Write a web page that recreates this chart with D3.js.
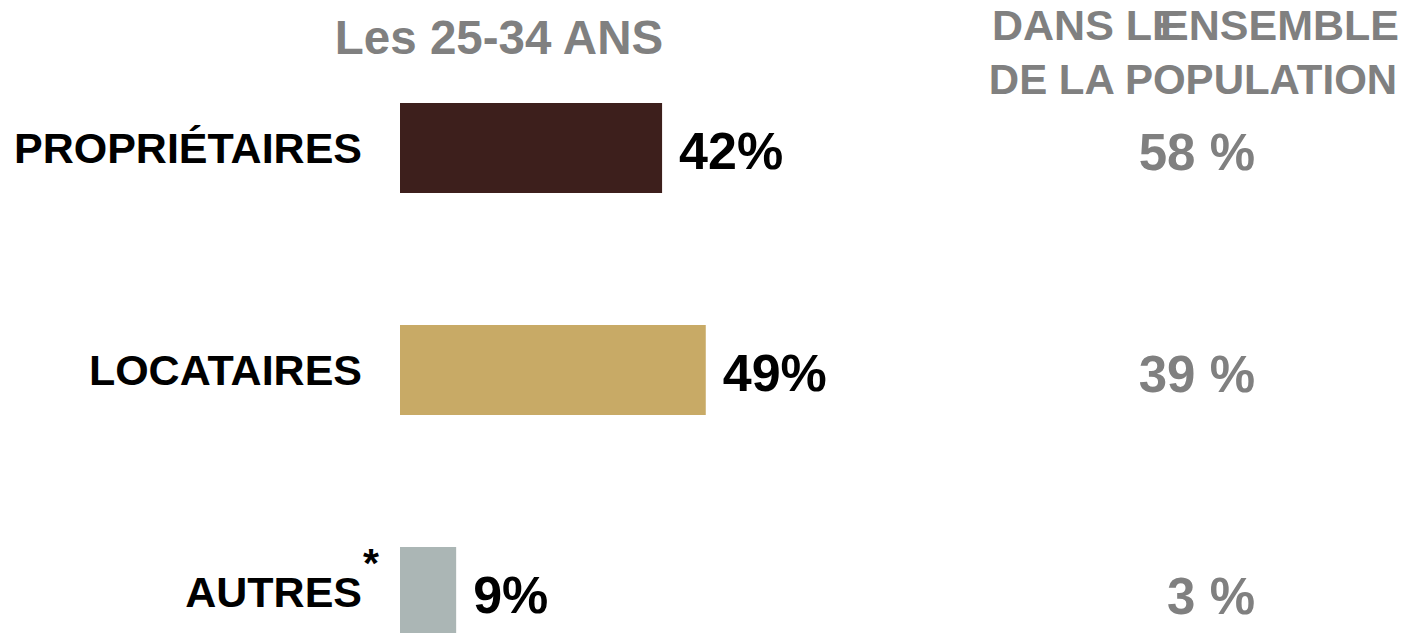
<!DOCTYPE html>
<html>
<head>
<meta charset="utf-8">
<script src="https://cdn.jsdelivr.net/npm/d3@7"></script>
<style>
    body { margin: 0; background: #fff; }
    svg text { font-family: "Liberation Sans", Arial, sans-serif; font-weight: bold; }
</style>
</head>
<body>
<div id="chart"></div>
<script>
// chart data
const categories = ["PROPRIÉTAIRES", "LOCATAIRES", "AUTRES"];
const youngValues = [42, 49, 9];
const allValues = [58, 39, 3];
const barColors = ["#3d1f1c", "#c8aa66", "#abb6b5"];

const width = 1403;
const height = 633;
const grey = "#808080";

const svg = d3.select("#chart")
    .append("svg")
    .attr("width", width)
    .attr("height", height);

const x = d3.scaleLinear().domain([0, 100]).range([400, 1024]);
const y = d3.scaleBand().domain(categories).range([103, 637]).paddingInner(0.5946).paddingOuter(0);

// column headers
svg.append("text")
    .attr("x", 499)
    .attr("y", 54)
    .attr("text-anchor", "middle")
    .style("font-size", "47.5px")
    .style("fill", grey)
    .text("Les 25-34 ANS");

// "DANS L'ENSEMBLE": the E is drawn twice, one over the other, as in the source
const measure = svg.append("text")
    .style("font-size", "43px")
    .style("opacity", 0)
    .text("E");
const ew = measure.node().getComputedTextLength();
measure.remove();

const head1 = svg.append("text")
    .attr("x", 992)
    .attr("y", 40)
    .style("font-size", "43px")
    .style("fill", grey);
head1.append("tspan").text("DANS LE");
head1.append("tspan").attr("dx", -ew + 8).text("ENSEMBLE");

svg.append("text")
    .attr("x", 1193)
    .attr("y", 94)
    .attr("text-anchor", "middle")
    .style("font-size", "42px")
    .style("fill", grey)
    .text("DE LA POPULATION");

// bars
svg.selectAll(".bar")
    .data(categories)
    .enter().append("rect")
    .attr("class", "bar")
    .attr("x", x(0))
    .attr("y", d => y(d))
    .attr("width", (d, i) => x(youngValues[i]) - x(0))
    .attr("height", y.bandwidth())
    .style("fill", (d, i) => barColors[i]);

// category labels
svg.selectAll(".cat")
    .data(categories)
    .enter().append("text")
    .attr("class", "cat")
    .attr("x", 362)
    .attr("y", d => y(d) + y.bandwidth() / 2 + 15)
    .attr("text-anchor", "end")
    .style("font-size", "43px")
    .style("fill", "#000")
    .text(d => d);

svg.append("text")
    .attr("x", 363)
    .attr("y", y("AUTRES") + 30)
    .style("font-size", "41px")
    .style("fill", "#000")
    .text("*");

// value labels
svg.selectAll(".val")
    .data(youngValues)
    .enter().append("text")
    .attr("class", "val")
    .attr("x", d => x(d) + 17)
    .attr("y", (d, i) => y(categories[i]) + y.bandwidth() / 2 + 21)
    .style("font-size", "52px")
    .style("fill", "#000")
    .text(d => d + "%");

// whole population values
svg.selectAll(".all")
    .data(allValues)
    .enter().append("text")
    .attr("class", "all")
    .attr("x", 1255)
    .attr("y", (d, i) => y(categories[i]) + y.bandwidth() / 2 + 22)
    .attr("text-anchor", "end")
    .style("font-size", "51px")
    .style("fill", grey)
    .text(d => d + " %");
</script>
</body>
</html>
